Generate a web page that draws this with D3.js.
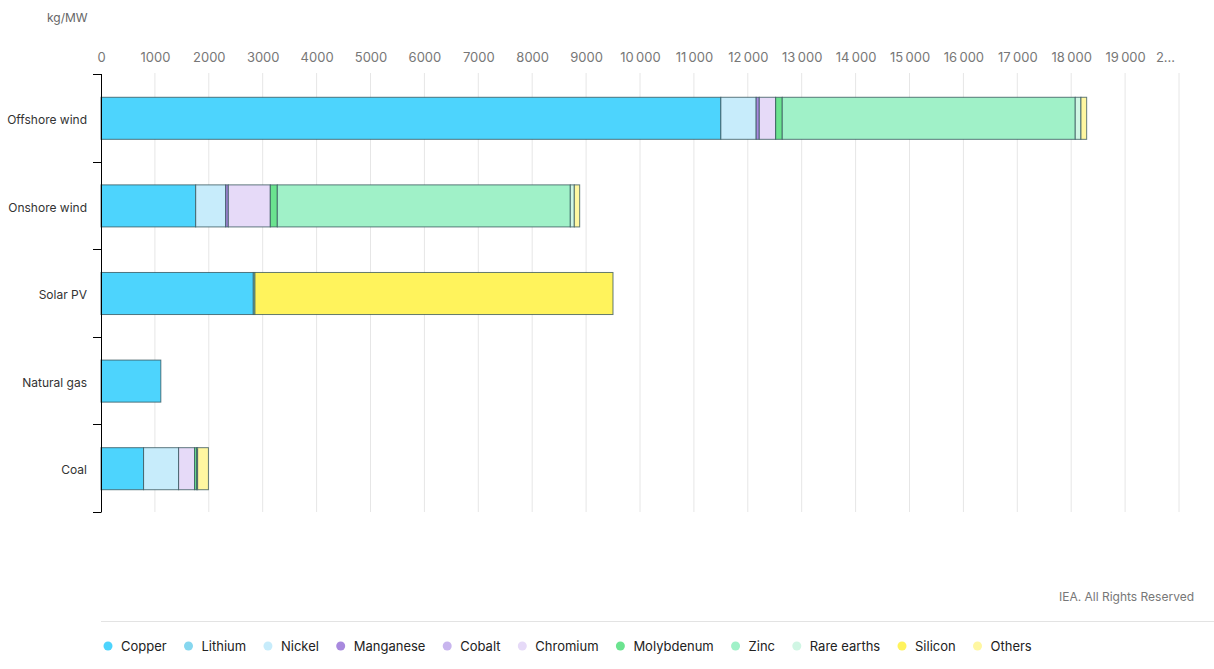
<!DOCTYPE html>
<html>
<head>
<meta charset="utf-8">
<script src="https://cdn.jsdelivr.net/npm/d3@7"></script>
<style>
  body { margin: 0; background: #fff; font-family: Inter, "Open Sans", sans-serif; }
  svg text { font-family: Inter, "Open Sans", sans-serif; }
</style>
</head>
<body>
<div id="chart"></div>
<script>
var width = 1214,
    height = 669;

var categories = ["Offshore wind", "Onshore wind", "Solar PV", "Natural gas", "Coal"];

var minerals = ["Copper", "Lithium", "Nickel", "Manganese", "Cobalt", "Chromium",
                "Molybdenum", "Zinc", "Rare earths", "Silicon", "Others"];
var colors = ["#4dd4fd", "#86d7ef", "#c7ecfb", "#a889de", "#c8b5ee", "#e6daf8",
              "#6be38f", "#a0f1c8", "#d0f6e4", "#fff35c", "#fff7a1"];

// kg/MW, one value per category
var copper     = [11500, 1757, 2826, 1110, 790];
var lithium    = [0, 0, 0, 0, 0];
var nickel     = [655, 557, 0, 0, 650];
var manganese  = [58, 48, 0, 0, 0];
var cobalt     = [0, 0, 0, 0, 0];
var chromium   = [304, 779, 0, 0, 297];
var molybdenum = [122, 130, 0, 0, 37];
var zinc       = [5436, 5436, 30, 0, 19];
var rareEarths = [106, 74, 0, 0, 0];
var silicon    = [0, 0, 6643, 0, 0];
var others     = [106, 100, 0, 0, 200];

var tickValues = d3.range(0, 20001, 1000);

var seriesValues = [copper, lithium, nickel, manganese, cobalt, chromium,
                    molybdenum, zinc, rareEarths, silicon, others];

var rows = categories.map(function (c, i) {
    var r = {category: c};
    minerals.forEach(function (m, j) { r[m] = seriesValues[j][i]; });
    return r;
});

var margin = {left: 101, top: 74, right: 35, bottom: 157};

var svg = d3.select("#chart").append("svg")
    .attr("width", width)
    .attr("height", height);

var x = d3.scaleLinear()
    .domain([0, 20000])
    .range([margin.left, width - margin.right]);

var y = d3.scaleBand()
    .domain(categories)
    .range([margin.top, height - margin.bottom])
    .padding(0);

var barH = y.bandwidth() * 0.48;

// unit label
svg.append("text")
    .attr("x", 47)
    .attr("y", 22)
    .attr("font-size", 12)
    .style("fill", "#666")
    .text("kg/MW");

// gridlines
svg.append("g")
    .selectAll("line")
    .data(tickValues.slice(1))
    .enter()
    .append("line")
    .attr("x1", function (d) { return x(d); })
    .attr("x2", function (d) { return x(d); })
    .attr("y1", y.range()[0] - 1)
    .attr("y2", y.range()[1])
    .style("stroke", "#e6e6e6")
    .style("stroke-width", 1);

// top axis, labels only
var fmt = function (d) {
    if (d === 20000) return "2...";
    if (d >= 10000) return d3.format(",")(d).replace(",", "\u2009");
    return String(d);
};
var xAxis = svg.append("g")
    .attr("transform", "translate(0," + 62 + ")")
    .call(d3.axisTop(x).tickValues(tickValues).tickFormat(fmt).tickSize(0).tickPadding(0));
xAxis.select(".domain").remove();
xAxis.selectAll("text")
    .attr("font-size", 13)
    .style("fill", "#777")
    .attr("dx", function (d) { return d === 20000 ? -14 : 0; });

// stacked bars
var stack = d3.stack().keys(minerals);
var layers = stack(rows);

svg.append("g")
    .selectAll("g")
    .data(layers)
    .enter()
    .append("g")
    .style("fill", function (d, i) { return colors[i]; })
    .selectAll("rect")
    .data(function (d) { return d.filter(function (p) { return p[1] - p[0] > 0; }); })
    .enter()
    .append("rect")
    .attr("x", function (d) { return x(d[0]); })
    .attr("width", function (d) { return x(d[1]) - x(d[0]); })
    .attr("y", function (d) { return y(d.data.category) + (y.bandwidth() - barH) / 2 + 0.5; })
    .attr("height", barH)
    .style("stroke", "#2f4f55")
    .style("stroke-opacity", 0.75)
    .style("stroke-width", 1);

// left axis: line with ticks on band boundaries
var yAxisG = svg.append("g");
yAxisG.append("line")
    .attr("x1", margin.left + 0.5).attr("x2", margin.left + 0.5)
    .attr("y1", y.range()[0]).attr("y2", y.range()[1])
    .style("stroke", "#000")
    .style("stroke-width", 1);

var bounds = categories.map(function (c) { return y(c); }).concat([y.range()[1]]);
yAxisG.selectAll(".bt")
    .data(bounds)
    .enter()
    .append("line")
    .attr("class", "bt")
    .attr("x1", margin.left - 8).attr("x2", margin.left + 0.5)
    .attr("y1", function (d) { return Math.round(d) + 0.5; })
    .attr("y2", function (d) { return Math.round(d) + 0.5; })
    .style("stroke", "#000")
    .style("stroke-width", 1);

yAxisG.selectAll(".cl")
    .data(categories)
    .enter()
    .append("text")
    .attr("class", "cl")
    .attr("x", margin.left - 14)
    .attr("y", function (d) { return y(d) + y.bandwidth() / 2 + 2; })
    .attr("dy", "0.35em")
    .attr("text-anchor", "end")
    .attr("font-size", 12)
    .style("fill", "#333")
    .text(function (d) { return d; });

// credit
svg.append("text")
    .attr("x", 1194)
    .attr("y", 601)
    .attr("text-anchor", "end")
    .attr("font-size", 12)
    .style("fill", "#777")
    .text("IEA. All Rights Reserved");

// separator
svg.append("line")
    .attr("x1", margin.left).attr("x2", width)
    .attr("y1", 621.5).attr("y2", 621.5)
    .style("stroke", "#e3e3e3")
    .style("stroke-width", 1);

// legend
var legend = svg.append("g").attr("transform", "translate(108,646)");
var lx = 0;
minerals.forEach(function (m, i) {
    var item = legend.append("g").attr("transform", "translate(" + lx + ",0)");
    item.append("circle")
        .attr("r", 4.5)
        .style("fill", colors[i]);
    var t = item.append("text")
        .attr("x", 13)
        .attr("dy", "0.35em")
        .attr("font-size", 13)
        .style("fill", "#222")
        .text(m);
    lx += 13 + t.node().getComputedTextLength() + 21.8;
});
</script>
</body>
</html>
